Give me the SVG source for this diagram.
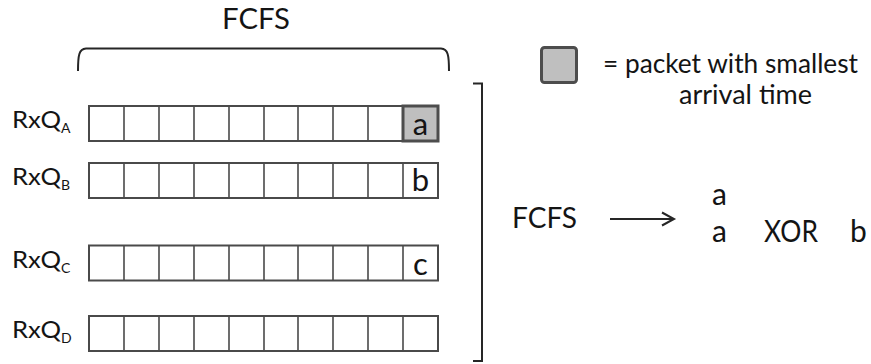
<svg xmlns="http://www.w3.org/2000/svg" width="871" height="364" viewBox="0 0 871 364">
<defs>
<style>
.t{font-family:Lato,"Liberation Sans",sans-serif;fill:#141414}
.q{fill:#fff;stroke:#4a4a4a;stroke-width:2}
.c{stroke:#4a4a4a;stroke-width:1.6}
.hl{fill:#bfbfbf;stroke:#4d4d4d;stroke-width:3}
.ln{fill:none;stroke:#262626;stroke-width:2}
</style>
<g id="cells">
<rect class="q" x="0" y="0" width="349" height="35"/>
<path class="c" d="M35,0V35M70,0V35M105,0V35M140,0V35M175,0V35M209,0V35M244,0V35M279,0V35M314,0V35"/>
</g>
</defs>
<rect width="871" height="364" fill="#fff"/>
<text class="t" x="222" y="29" font-size="29" textLength="68" lengthAdjust="spacingAndGlyphs">FCFS</text>
<g id="qA">
<use href="#cells" x="89" y="106"/>
<rect class="hl" x="403" y="106" width="35" height="35"/>
<text class="t" x="420.5" y="135" font-size="31" text-anchor="middle">a</text>
<text class="t" x="12" y="128" font-size="23" textLength="49" lengthAdjust="spacingAndGlyphs">RxQ</text>
<text class="t" x="61" y="133" font-size="14">A</text>
</g>
<g id="qB">
<use href="#cells" x="89" y="163"/>
<text class="t" x="420.5" y="191" font-size="31" text-anchor="middle">b</text>
<text class="t" x="12" y="185" font-size="23" textLength="49" lengthAdjust="spacingAndGlyphs">RxQ</text>
<text class="t" x="61" y="190" font-size="14">B</text>
</g>
<g id="qC">
<use href="#cells" x="89" y="245.5"/>
<text class="t" x="420.5" y="275" font-size="31" text-anchor="middle">c</text>
<text class="t" x="12" y="268" font-size="23" textLength="49" lengthAdjust="spacingAndGlyphs">RxQ</text>
<text class="t" x="61" y="273" font-size="14">C</text>
</g>
<g id="qD">
<use href="#cells" x="89" y="316"/>
<text class="t" x="12" y="338" font-size="23" textLength="49" lengthAdjust="spacingAndGlyphs">RxQ</text>
<text class="t" x="61" y="343" font-size="14">D</text>
</g>
<g id="legend">
<rect class="hl" x="541.5" y="47.5" width="35" height="35" rx="3"/>
<text class="t" x="603" y="73" font-size="27" textLength="255" lengthAdjust="spacingAndGlyphs">= packet with smallest</text>
<text class="t" x="679" y="104" font-size="27" textLength="133" lengthAdjust="spacingAndGlyphs">arrival time</text>
</g>
<g id="result">
<text class="t" x="512" y="228" font-size="29" textLength="65" lengthAdjust="spacingAndGlyphs">FCFS</text>
<text class="t" x="712" y="205" font-size="30">a</text>
<text class="t" x="712" y="242" font-size="30">a</text>
<text class="t" x="764" y="242" font-size="30" textLength="54" lengthAdjust="spacingAndGlyphs">XOR</text>
<text class="t" x="850" y="242" font-size="30">b</text>
</g>
<g id="connectors">
<path class="ln" d="M78,71 C78,55 79,49 86,48.5 L441,48.5 C448,49 449,55 449,71"/>
<path class="ln" d="M473,83.5 H482 V361 H473"/>
<path class="ln" d="M610,219 H673"/>
<path class="ln" d="M662,212.5 L674,219 L662,225.5"/>
</g>
</svg>
